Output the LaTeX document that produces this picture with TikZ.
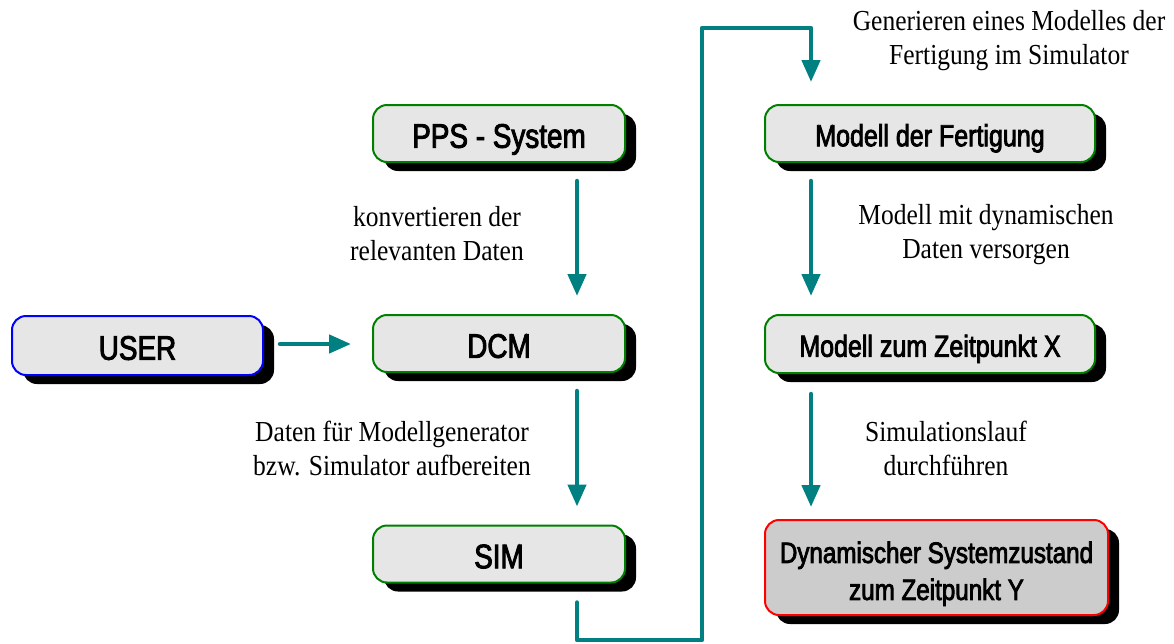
\documentclass[tikz,border=0pt]{standalone}
\usepackage{fontspec}
\usetikzlibrary{arrows.meta,shadows,calc}
\newfontfamily\boxfont[FakeStretch=0.82,FakeBold=2.6]{Liberation Sans}
\newfontfamily\labfont[FakeStretch=0.88]{Liberation Serif}
\definecolor{teal1}{RGB}{0,128,128}
\definecolor{grn}{RGB}{0,128,0}
\definecolor{boxfill}{RGB}{230,230,230}
\definecolor{dynfill}{RGB}{204,204,204}
\tikzset{
  flowbox/.style={rectangle, rounded corners=14pt, line width=2pt, fill=boxfill,
    general shadow={shadow xshift=11pt, shadow yshift=-9pt, fill=black},
    inner sep=0pt, font=\boxfont\fontsize{34}{38}\selectfont, text=black},
  onel/.style={text height=28.5pt, text depth=0pt},
  gbox/.style={flowbox, onel, draw=grn, minimum width=252pt, minimum height=57pt},
  rbox/.style={gbox, minimum width=330pt, font=\boxfont\fontsize{30.5}{36}\selectfont, text height=25.5pt},
  conn/.style={draw=teal1, line width=4.5pt, line cap=round, line join=round,
    -{Triangle[length=22pt,width=18pt]}},
  lab/.style={align=center, font=\labfont\fontsize{29}{34}\selectfont, inner sep=0pt}
}
\begin{document}
\begin{tikzpicture}[x=1pt,y=-1pt]
\useasboundingbox (0,0) rectangle (1174,643);
\node[flowbox, onel, draw=blue, minimum width=251pt, minimum height=59pt] (user) at (137.5,345.5) {USER};
\node[gbox] (pps) at (499,133.5) {PPS - System};
\node[gbox] (dcm) at (499,343.5) {DCM};
\node[gbox] (sim) at (499,554) {SIM};
\node[rbox] (mdf) at (930,133.5) {Modell der Fertigung};
\node[rbox, minimum height=58pt] (mzx) at (930,344) {Modell zum Zeitpunkt X};
\node[flowbox, draw=red, fill=dynfill, minimum width=343pt, minimum height=95pt, align=center,
  font=\boxfont\fontsize{29.5}{37}\selectfont] (dyn) at (936.5,567.5) {\rule{0pt}{34pt}Dynamischer Systemzustand\\zum Zeitpunkt Y};

\coordinate (colL) at (577,0);
\coordinate (colR) at (811,0);
\coordinate (b1) at (577,640);
\coordinate (b2) at (702,640);
\coordinate (b3) at (702,28);
\coordinate (b4) at (811,28);

\draw[conn, shorten <=18pt, shorten >=18pt] (pps.south -| colL) -- (dcm.north -| colL);
\draw[conn, shorten <=18pt, shorten >=18pt] (dcm.south -| colL) -- (sim.north -| colL);
\draw[conn, shorten <=18pt, shorten >=18pt] (mdf.south -| colR) -- (mzx.north -| colR);
\draw[conn, shorten <=20pt, shorten >=12pt] (mzx.south -| colR) -- (dyn.north -| colR);
\draw[conn, shorten <=16pt, shorten >=21pt] ([yshift=1.5pt]user.east) -- ([yshift=1.5pt]user.east -| dcm.west);
\draw[conn, shorten <=19pt, shorten >=22pt] (sim.south -| colL) -- (b1) -- (b2) -- (b3) -- (b4) -- (mdf.north -| colR);

\node[lab] (lgen) at (1009,41) {Generieren eines Modelles der\\Fertigung im Simulator};
\node[lab] (lkonv) at (437,234) {konvertieren der\\relevanten Daten};
\node[lab] (lmod) at (986,235) {Modell mit dynamischen\\Daten versorgen};
\node[lab] (ldat) at (392,448) {Daten für Modellgenerator\\bzw. Simulator aufbereiten};
\node[lab] (lsim) at (946,448) {Simulationslauf\\durchführen};
\end{tikzpicture}
\end{document}
